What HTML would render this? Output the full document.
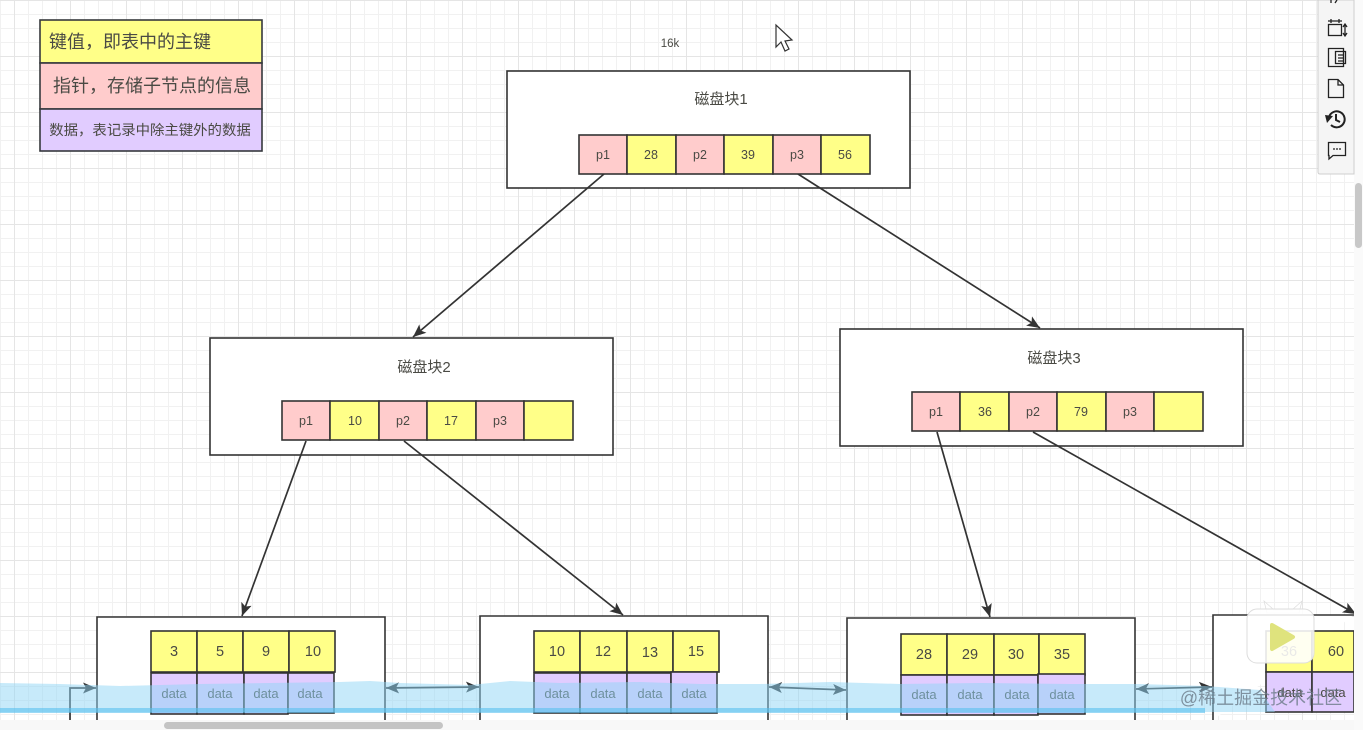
<!DOCTYPE html>
<html><head><meta charset="utf-8"><style>
html,body{margin:0;padding:0;background:#fff}
svg{display:block}
text{font-family:"Liberation Sans","Noto Sans CJK SC",sans-serif;fill:#4a4a44;text-anchor:middle}
</style></head><body>
<svg width="1363" height="730" viewBox="0 0 1363 730" xmlns="http://www.w3.org/2000/svg">
<defs>
<pattern id="g" width="14" height="14" patternUnits="userSpaceOnUse"><path d="M14 .5H.5V14" fill="none" stroke="#f1f1f1" stroke-width="1"/></pattern>
<pattern id="G" width="56" height="56" patternUnits="userSpaceOnUse" x="14" y="0"><path d="M56 .5H.5V56" fill="none" stroke="#e5e5e5" stroke-width="1"/></pattern>
<marker id="a" markerUnits="userSpaceOnUse" markerWidth="15" markerHeight="12" refX="13" refY="5.500" orient="auto-start-reverse"><path d="M0 0L13 5.500L0 11L3 5.500Z" fill="#333"/></marker>
<clipPath id="c"><rect width="1354" height="720"/></clipPath>
</defs>
<rect width="1363" height="730" fill="#fff"/>
<rect width="1354" height="720" fill="url(#g)"/>
<rect width="1354" height="720" fill="url(#G)"/>

<!-- legend -->
<g stroke="#36393d" stroke-width="1.6">
<rect x="40" y="20" width="222" height="43" fill="#ffff88"/>
<rect x="40" y="63" width="222" height="46" fill="#ffcccc"/>
<rect x="40" y="109" width="222" height="42" fill="#e1ccff"/>
</g>
<text x="130" y="48" font-size="18">键值，即表中的主键</text>
<text x="152" y="92" font-size="18">指针，存储子节点的信息</text>
<text x="150" y="135" font-size="14.4">数据，表记录中除主键外的数据</text>
<text x="670" y="47" font-size="11.5">16k</text>

<!-- cursor -->
<path d="M776 25V47L781 42L785 51L789 49L785 41L792 40Z" fill="#fff" stroke="#333" stroke-width="1.2"/>

<!-- disk blocks -->
<g fill="#fff" stroke="#333" stroke-width="1.6">
<rect x="507" y="71" width="403" height="117"/>
<rect x="210" y="338" width="403" height="117"/>
<rect x="840" y="329" width="403" height="117"/>
<path d="M97 720V617H385V720"/>
<path d="M480 720V616H768V720"/>
<path d="M847 720V618H1135V720"/>
<path d="M1213 720V615H1354"/>
</g>
<text x="721" y="104" font-size="15">磁盘块1</text>
<text x="424" y="372" font-size="15">磁盘块2</text>
<text x="1054" y="363" font-size="15">磁盘块3</text>

<!-- connectors -->
<g stroke="#333" stroke-width="1.7" fill="none" marker-end="url(#a)" clip-path="url(#c)">
<path d="M604 174L413 337"/>
<path d="M798 174L1040 328"/>
<path d="M306 441L242 616"/>
<path d="M404 441L623 615"/>
<path d="M937 432L990 617"/>
<path d="M1033 432L1356 614"/>
</g>

<!-- cells -->
<g stroke="#333" stroke-width="1.6">
<rect x="579" y="135" width="48" height="39" fill="#ffcccc"/><rect x="627" y="135" width="49" height="39" fill="#ffff88"/>
<rect x="676" y="135" width="48" height="39" fill="#ffcccc"/><rect x="724" y="135" width="49" height="39" fill="#ffff88"/>
<rect x="773" y="135" width="48" height="39" fill="#ffcccc"/><rect x="821" y="135" width="49" height="39" fill="#ffff88"/>
<rect x="282" y="401" width="48" height="39" fill="#ffcccc"/><rect x="330" y="401" width="49" height="39" fill="#ffff88"/>
<rect x="379" y="401" width="48" height="39" fill="#ffcccc"/><rect x="427" y="401" width="49" height="39" fill="#ffff88"/>
<rect x="476" y="401" width="48" height="39" fill="#ffcccc"/><rect x="524" y="401" width="49" height="39" fill="#ffff88"/>
<rect x="912" y="392" width="48" height="39" fill="#ffcccc"/><rect x="960" y="392" width="49" height="39" fill="#ffff88"/>
<rect x="1009" y="392" width="48" height="39" fill="#ffcccc"/><rect x="1057" y="392" width="49" height="39" fill="#ffff88"/>
<rect x="1106" y="392" width="48" height="39" fill="#ffcccc"/><rect x="1154" y="392" width="49" height="39" fill="#ffff88"/>
</g>
<g font-size="12.5">
<text x="603" y="159">p1</text><text x="651" y="159">28</text><text x="700" y="159">p2</text><text x="748" y="159">39</text><text x="797" y="159">p3</text><text x="845" y="159">56</text>
<text x="306" y="425">p1</text><text x="355" y="425">10</text><text x="403" y="425">p2</text><text x="451" y="425">17</text><text x="500" y="425">p3</text>
<text x="936" y="416">p1</text><text x="985" y="416">36</text><text x="1033" y="416">p2</text><text x="1081" y="416">79</text><text x="1130" y="416">p3</text>
</g>

<!-- leaves -->
<g stroke="#333" stroke-width="1.6">
<g fill="#ffff88">
<rect x="151" y="631" width="46" height="41"/><rect x="197" y="631" width="46" height="41"/><rect x="243" y="631" width="46" height="41"/><rect x="289" y="631" width="46" height="41"/>
<rect x="534" y="631" width="46" height="41"/><rect x="580" y="631" width="47" height="41"/><rect x="627" y="631" width="46" height="41"/><rect x="673" y="631" width="46" height="41"/>
<rect x="901" y="634" width="46" height="41"/><rect x="947" y="634" width="47" height="41"/><rect x="994" y="634" width="45" height="41"/><rect x="1039" y="634" width="46" height="41"/>
<rect x="1266" y="631" width="46" height="41"/><rect x="1312" y="631" width="42" height="41"/>
</g>
<g fill="#e1ccff">
<rect x="151" y="673" width="46" height="41"/><rect x="197" y="673" width="47" height="41"/><rect x="244" y="673" width="44" height="41"/><rect x="288" y="673" width="46" height="40"/>
<rect x="534" y="673" width="46" height="40"/><rect x="580" y="673" width="47" height="40"/><rect x="627" y="673" width="44" height="40"/><rect x="671" y="672" width="46" height="41"/>
<rect x="901" y="675" width="46" height="40"/><rect x="947" y="675" width="47" height="40"/><rect x="994" y="675" width="44" height="40"/><rect x="1038" y="674" width="47" height="40"/>
<rect x="1266" y="672" width="46" height="40"/><rect x="1312" y="672" width="42" height="40"/>
</g>
</g>
<g font-size="14.5">
<text x="174" y="656">3</text><text x="220" y="656">5</text><text x="266" y="656">9</text><text x="313" y="656">10</text>
<text x="557" y="656">10</text><text x="603" y="656">12</text><text x="650" y="657">13</text><text x="696" y="656">15</text>
<text x="924" y="659">28</text><text x="970" y="659">29</text><text x="1016" y="659">30</text><text x="1062" y="659">35</text>
<text x="1336" y="656">60</text><text x="1289" y="656">36</text>
</g>
<g font-size="13">
<text x="174" y="698">data</text><text x="220" y="698">data</text><text x="266" y="698">data</text><text x="310" y="698">data</text>
<text x="557" y="698">data</text><text x="603" y="698">data</text><text x="650" y="698">data</text><text x="694" y="698">data</text>
<text x="924" y="699">data</text><text x="970" y="699">data</text><text x="1017" y="699">data</text><text x="1062" y="699">data</text>
<text x="1290" y="697">data</text><text x="1333" y="697">data</text>
</g>

<!-- leaf links -->
<g stroke="#333" stroke-width="1.7" fill="none">
<path d="M70 720V688H96" marker-end="url(#a)"/>
<path d="M386 688L479 687" marker-start="url(#a)" marker-end="url(#a)"/>
<path d="M769 687L846 690" marker-start="url(#a)" marker-end="url(#a)"/>
<path d="M1136 689L1212 687" marker-start="url(#a)" marker-end="url(#a)"/>
</g>

<!-- water overlay -->
<path d="M0 683L60 684L120 686L200 684L270 683L340 682L370 681L400 683L470 685L510 681L560 683L640 682L700 684L760 684L830 682L900 684L980 683L1070 684L1140 684L1205 686L1260 690L1275 712H0Z" fill="#8fd6f5" fill-opacity=".5"/>
<rect x="0" y="708" width="1205" height="5" fill="#58c0ee" fill-opacity=".6"/>

<!-- play logo + watermark -->
<path d="M1264 601L1274 610H1292L1302 601L1299 613H1267Z" fill="#fff" fill-opacity=".85" stroke="#ddd" stroke-width=".7"/>
<rect x="1247" y="609" width="67" height="54" rx="10" fill="#fff" fill-opacity=".88" stroke="#ddd" stroke-width="1"/>
<path d="M1272 625L1293 637L1272 649Z" fill="#dfe37d" stroke="#dfe37d" stroke-width="4" stroke-linejoin="round"/>
<text x="1261" y="704" font-size="18" style="fill:#6b7b88;fill-opacity:.8">@稀土掘金技术社区</text>

<!-- bottom / scroll -->
<rect x="0" y="720" width="1363" height="10" fill="#f8f8f8"/>
<rect x="164" y="722" width="279" height="7" rx="3.5" fill="#c4c4c4"/>
<rect x="1354" y="0" width="9" height="730" fill="#fafafa"/>
<rect x="1355" y="183" width="7" height="65" rx="3.5" fill="#c8c8c8"/>

<!-- toolbar -->
<path d="M1318 0V172Q1318 174 1320 174H1354V0Z" fill="#f5f5f5" stroke="#cfcfcf"/>
<g fill="none" stroke="#222" stroke-width="1.3">
<path d="M1331 0V3M1337 0L1335 3"/>
<rect x="1328.500" y="24.500" width="13" height="11"/>
<path d="M1328 21H1342M1345 24V36M1331 19V23M1339 19V23M1343 27L1345 24L1347 27M1343 33L1345 36L1347 33"/>
<path d="M1328.500 48.500H1343.500V66.500H1328.500Z"/>
<path d="M1335.500 51.500H1345.500V63.500H1335.500ZM1338 55H1343M1338 58H1343M1338 61H1343"/>
<path d="M1328.500 79.500H1338L1343.500 85V97.500H1328.500ZM1338 80V85H1343"/>
<path d="M1329 117A8 8 0 1 1 1331 125M1336 114V120L1340 122" stroke-width="2"/>
<path d="M1328.500 142.500H1345.500V155.500H1333L1329 159V155.500H1328.500Z"/>
<path d="M1333 149H1335M1336 149H1338M1339 149H1341"/>
</g>
<path d="M1325 115L1333 116L1327 123Z" fill="#222"/>
</svg>
</body></html>
